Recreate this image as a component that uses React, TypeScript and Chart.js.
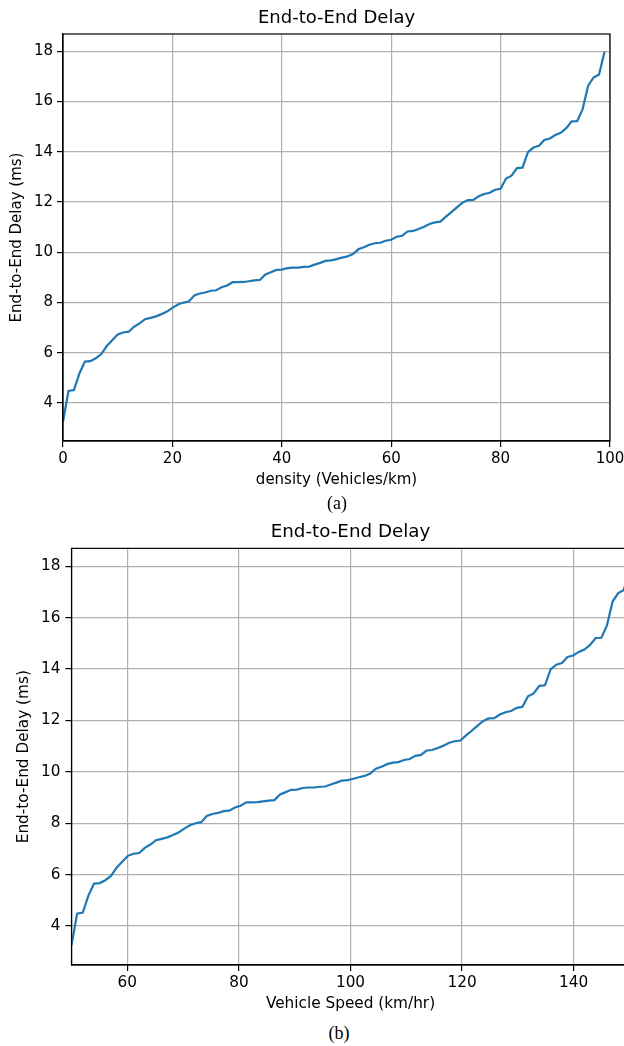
import React, { useEffect, useRef } from 'react';
import { Chart, registerables } from 'chart.js';

Chart.register(...registerables);
Chart.defaults.font.family = "'DejaVu Sans', sans-serif";

// Categories
const DENSITY = [
  0, 1, 2, 3, 4, 5, 6, 7, 8, 9, 10, 11, 12, 13, 14, 15, 16, 17, 18, 19,
  20, 21, 22, 23, 24, 25, 26, 27, 28, 29, 30, 31, 32, 33, 34, 35, 36, 37, 38, 39,
  40, 41, 42, 43, 44, 45, 46, 47, 48, 49, 50, 51, 52, 53, 54, 55, 56, 57, 58, 59,
  60, 61, 62, 63, 64, 65, 66, 67, 68, 69, 70, 71, 72, 73, 74, 75, 76, 77, 78, 79,
  80, 81, 82, 83, 84, 85, 86, 87, 88, 89, 90, 91, 92, 93, 94, 95, 96, 97, 98, 99,
];
// Vehicle speed: 100 evenly spaced samples from 50 to 150 km/hr
const SPEED = DENSITY.map((d) => 50 + (d * 100) / 99);

// Series values (ms)
const DELAY = [
  3.25, 4.48, 4.52, 5.18, 5.65, 5.67, 5.78, 5.95, 6.27, 6.5,
  6.73, 6.81, 6.84, 7.04, 7.17, 7.34, 7.39, 7.45, 7.54, 7.64,
  7.79, 7.92, 8.0, 8.04, 8.28, 8.36, 8.4, 8.47, 8.49, 8.61,
  8.68, 8.81, 8.81, 8.82, 8.85, 8.88, 8.9, 9.12, 9.21, 9.3,
  9.31, 9.37, 9.39, 9.39, 9.42, 9.43, 9.51, 9.58, 9.66, 9.68,
  9.73, 9.79, 9.84, 9.93, 10.12, 10.2, 10.3, 10.36, 10.38, 10.46,
  10.5, 10.62, 10.66, 10.83, 10.85, 10.93, 11.02, 11.13, 11.19, 11.22,
  11.42, 11.6, 11.79, 11.97, 12.08, 12.09, 12.23, 12.32, 12.37, 12.49,
  12.53, 12.94, 13.05, 13.35, 13.37, 13.99, 14.17, 14.24, 14.47, 14.53,
  14.67, 14.76, 14.94, 15.21, 15.22, 15.7, 16.63, 16.96, 17.08, 17.98,
];

// Tick labels
const Y_TICKS = [4, 6, 8, 10, 12, 14, 16, 18];
const DENSITY_TICKS = [0, 20, 40, 60, 80, 100];
const SPEED_TICKS = [60, 80, 100, 120, 140];

const TITLE = 'End-to-End Delay';
const Y_LABEL = 'End-to-End Delay (ms)';

const framePlugin = {
  id: 'frame',
  afterDraw(chart: any) {
    const { ctx, chartArea } = chart;
    const { left, top, right, bottom } = chartArea;
    ctx.save();
    ctx.strokeStyle = '#000';
    ctx.lineWidth = 1.2;
    ctx.strokeRect(left, top, right - left, bottom - top);
    ctx.restore();
  },
};

type PanelCfg = {
  xs: number[];
  xMin: number;
  xMax: number;
  xTicks: number[];
  xTitle: string;
  yMin: number;
  yMax: number;
  font: number;
  titleFont: number;
  titlePad: { top: number; bottom: number };
  yTitlePad: number;
  yTickPad: number;
  xTickPad: number;
  xTitlePad: number;
  yWidth: number;
  xHeight: number;
  padRight: number;
};

function buildConfig(c: PanelCfg): any {
  const tickFont = { size: c.font };
  const gridOpts = {
    color: '#b0b0b0',
    lineWidth: 1.2,
    tickColor: '#000',
    tickLength: 6,
    tickWidth: 1.2,
  };
  return {
    type: 'line',
    data: {
      datasets: [
        {
          data: c.xs.map((x, i) => ({ x, y: DELAY[i] })),
          borderColor: '#1f77b4',
          backgroundColor: '#1f77b4',
          borderWidth: 2.2,
          pointRadius: 0,
          fill: false,
          tension: 0,
        },
      ],
    },
    options: {
      animation: false,
      responsive: false,
      maintainAspectRatio: false,
      events: [],
      layout: { padding: { left: 0, top: 0, right: c.padRight, bottom: 0 } },
      plugins: {
        legend: { display: false },
        tooltip: { enabled: false },
        title: {
          display: true,
          text: TITLE,
          fullSize: false,
          color: '#000',
          font: { size: c.titleFont, weight: 'normal' },
          padding: c.titlePad,
        },
      },
      scales: {
        x: {
          type: 'linear',
          min: c.xMin,
          max: c.xMax,
          afterFit: (s: any) => {
            s.height = c.xHeight;
          },
          afterBuildTicks: (s: any) => {
            s.ticks = c.xTicks.map((value) => ({ value }));
          },
          ticks: {
            font: tickFont,
            color: '#000',
            padding: c.xTickPad,
            maxRotation: 0,
            autoSkip: false,
            includeBounds: false,
          },
          grid: gridOpts,
          border: { display: true, color: '#000', width: 1.2 },
          title: {
            display: true,
            text: c.xTitle,
            color: '#000',
            font: { size: c.font },
            padding: { top: 0, bottom: c.xTitlePad },
          },
        },
        y: {
          type: 'linear',
          min: c.yMin,
          max: c.yMax,
          afterFit: (s: any) => {
            s.width = c.yWidth;
          },
          afterBuildTicks: (s: any) => {
            s.ticks = Y_TICKS.map((value) => ({ value }));
          },
          ticks: {
            font: tickFont,
            color: '#000',
            padding: c.yTickPad,
            autoSkip: false,
            includeBounds: false,
          },
          grid: gridOpts,
          border: { display: true, color: '#000', width: 1.2 },
          title: {
            display: true,
            text: Y_LABEL,
            color: '#000',
            font: { size: c.font },
            padding: { top: c.yTitlePad, bottom: 0 },
          },
        },
      },
    },
    plugins: [framePlugin],
  };
}

function Panel({ top, width, height, cfg }: { top: number; width: number; height: number; cfg: PanelCfg }) {
  const ref = useRef<HTMLCanvasElement>(null);
  useEffect(() => {
    if (!ref.current) return;
    const chart = new Chart(ref.current, buildConfig(cfg));
    return () => chart.destroy();
  }, []);
  return (
    <canvas
      ref={ref}
      width={width}
      height={height}
      style={{ position: 'absolute', left: 0, top, width, height }}
    />
  );
}

const captionStyle: React.CSSProperties = {
  position: 'absolute',
  transform: 'translate(-50%, -50%)',
  fontFamily: "'Liberation Serif', 'Times New Roman', serif",
  fontSize: 18,
  lineHeight: 1,
  whiteSpace: 'nowrap',
  color: '#000',
};

export default function App() {
  const cfgA: PanelCfg = {
    xs: DENSITY,
    xMin: 0,
    xMax: 100,
    xTicks: DENSITY_TICKS,
    xTitle: 'density (Vehicles/km)',
    yMin: 2.49,
    yMax: 18.69,
    font: 15,
    titleFont: 18,
    titlePad: { top: 7.2, bottom: 5.2 },
    yTitlePad: 7.8,
    yTickPad: 4,
    xTickPad: 3.5,
    xTitlePad: 6,
    yWidth: 63,
    xHeight: 54,
    padRight: 30,
  };
  const cfgB: PanelCfg = {
    xs: SPEED,
    xMin: 50,
    xMax: 150,
    xTicks: SPEED_TICKS,
    xTitle: 'Vehicle Speed (km/hr)',
    yMin: 2.48,
    yMax: 18.7,
    font: 15.3,
    titleFont: 18.3,
    titlePad: { top: 11.2, bottom: 5.2 },
    yTitlePad: 14.6,
    yTickPad: 5,
    xTickPad: 3.3,
    xTitlePad: 5.8,
    yWidth: 71.5,
    xHeight: 54,
    padRight: 30.5,
  };
  return (
    <div
      style={{
        position: 'absolute',
        left: 0,
        top: 0,
        width: 624,
        height: 1046,
        overflow: 'hidden',
        background: '#fff',
      }}
    >
      <Panel top={0} width={640} height={495} cfg={cfgA} />
      <div style={{ ...captionStyle, left: 337, top: 503 }}>(a)</div>
      <Panel top={510} width={660} height={509} cfg={cfgB} />
      <div style={{ ...captionStyle, left: 339, top: 1033 }}>(b)</div>
    </div>
  );
}
